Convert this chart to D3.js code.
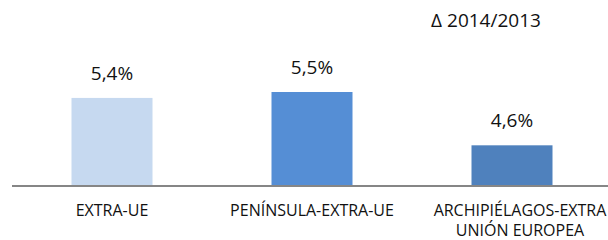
<!DOCTYPE html>
<html>
<head>
<meta charset="utf-8">
<script src="https://cdn.jsdelivr.net/npm/d3@7"></script>
<style>
  body { margin: 0; background: #fff; }
  text { font-family: "Open Sans", sans-serif; fill: #111; }
</style>
</head>
<body>
<div class="svg-container"></div>
<script>
// chart data
const categories = ["EXTRA-UE", "PENÍNSULA-EXTRA-UE", "ARCHIPIÉLAGOS-EXTRA UNIÓN EUROPEA"];
const categoryLines = [["EXTRA-UE"], ["PENÍNSULA-EXTRA-UE"], ["ARCHIPIÉLAGOS-EXTRA", "UNIÓN EUROPEA"]];
const values = [5.4, 5.5, 4.6];
const valueLabels = ["5,4%", "5,5%", "4,6%"];
const barColors = ["#c6d9f0", "#558ed5", "#4f81bd"];
const title = "Δ 2014/2013";

const w = 608, h = 240;

const svg = d3.select(".svg-container")
  .append("svg")
  .attr("width", w)
  .attr("height", h);

const xScale = d3.scaleBand()
  .domain(categories)
  .range([12, 612])
  .paddingInner(0.595)
  .paddingOuter(0.2975);

// value axis does not start at zero in the original
const yScale = d3.scaleLinear()
  .domain([3.93, 5.5])
  .range([185, 92]);

// bars
svg.selectAll("rect.bar")
  .data(values)
  .enter()
  .append("rect")
  .attr("class", "bar")
  .attr("x", (d, i) => xScale(categories[i]))
  .attr("y", d => yScale(d))
  .attr("width", xScale.bandwidth())
  .attr("height", d => yScale(3.93) - yScale(d))
  .attr("fill", (d, i) => barColors[i]);

// baseline
svg.append("line")
  .attr("x1", 12)
  .attr("x2", w)
  .attr("y1", yScale(3.93) + 1)
  .attr("y2", yScale(3.93) + 1)
  .attr("stroke", "#868686")
  .attr("stroke-width", 2);

// value labels
svg.selectAll("text.value")
  .data(values)
  .enter()
  .append("text")
  .attr("class", "value")
  .attr("x", (d, i) => xScale(categories[i]) + xScale.bandwidth() / 2)
  .attr("y", d => yScale(d) - 18)
  .attr("text-anchor", "middle")
  .style("font-size", "19px")
  .text((d, i) => valueLabels[i]);

// category labels
const offsets = [0, 0, 8];
categoryLines.forEach((lines, i) => {
  const cx = xScale(categories[i]) + xScale.bandwidth() / 2 + offsets[i];
  const t = svg.append("text")
    .attr("text-anchor", "middle")
    .attr("x", cx)
    .attr("y", 216)
    .style("font-size", "16px");
  lines.forEach((l, j) => {
    t.append("tspan")
      .attr("x", cx)
      .attr("dy", j === 0 ? 0 : 20)
      .text(l);
  });
});

// title
svg.append("text")
  .attr("x", 486)
  .attr("y", 27)
  .attr("text-anchor", "middle")
  .style("font-size", "19px")
  .text(title);
</script>
</body>
</html>
